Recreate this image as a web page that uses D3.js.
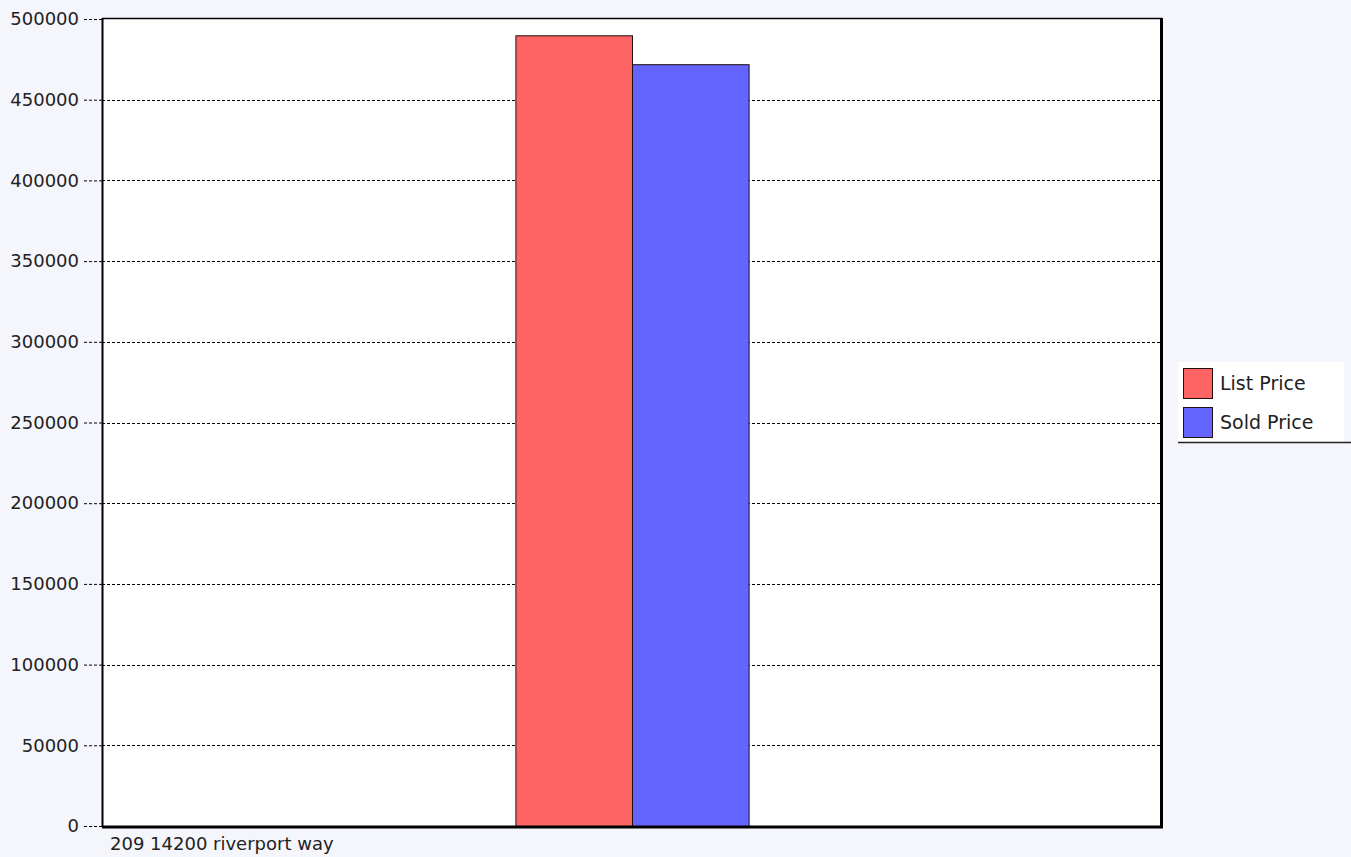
<!DOCTYPE html>
<html>
<head>
<meta charset="utf-8">
<script src="https://cdn.jsdelivr.net/npm/d3@7"></script>
<style>
  body { margin: 0; background: #f5f5fc; }
  text { font-family: "DejaVu Sans", sans-serif; }
</style>
</head>
<body>
<script>
var categories = ['209 14200 riverport way'];
var seriesNames = ['List Price', 'Sold Price'];
var listPrice = [489900];
var soldPrice = [472000];
var yTicks = [0, 50000, 100000, 150000, 200000, 250000, 300000, 350000, 400000, 450000, 500000];
var colors = ['#ff6464', '#6464ff'];

var screen = { width: 1351, height: 857 };
var plot = { left: 102, top: 18, right: 1162, bottom: 827 };

var svg = d3.select('body')
            .append('svg')
            .attr('width', screen.width)
            .attr('height', screen.height);

var xScale = d3.scaleBand()
               .domain(categories)
               .range([plot.left, plot.right]);

var subScale = d3.scaleBand()
                 .domain(seriesNames)
                 .range([xScale.bandwidth() * 0.39, xScale.bandwidth() * 0.61]);

var yScale = d3.scaleLinear()
               .domain([0, 500000])
               .range([plot.bottom - 1, plot.top + 1]);

// plot background
svg.append('rect')
   .attr('x', plot.left)
   .attr('y', plot.top)
   .attr('width', plot.right - plot.left)
   .attr('height', plot.bottom - plot.top)
   .attr('fill', '#ffffff');

// y axis with dashed ticks + gridlines
var yAxis = svg.append('g')
               .attr('transform', 'translate(' + plot.left + ',0)')
               .call(d3.axisLeft(yScale).tickValues(yTicks).tickSize(18).tickPadding(5).tickFormat(d3.format('d')));
yAxis.select('.domain').remove();
yAxis.selectAll('line').attr('stroke', '#000').attr('stroke-dasharray', '3,2');
yAxis.selectAll('text').attr('font-size', 18).attr('fill', '#222').attr('font-family', '"DejaVu Sans", sans-serif');

svg.append('g')
   .selectAll('line')
   .data(yTicks.filter(function(d){ return d > 0 && d < 500000; }))
   .enter()
   .append('line')
   .attr('x1', plot.left)
   .attr('x2', plot.right)
   .attr('y1', function(d){ return Math.round(yScale(d)) + 0.5; })
   .attr('y2', function(d){ return Math.round(yScale(d)) + 0.5; })
   .attr('stroke', '#000')
   .attr('stroke-dasharray', '3,2');

// bars
var rows = categories.map(function(c, i){
  return [{ key: 'List Price', value: listPrice[i], cat: c },
          { key: 'Sold Price', value: soldPrice[i], cat: c }];
});

svg.append('g')
   .selectAll('g')
   .data(rows)
   .enter()
   .append('g')
   .attr('transform', function(d){ return 'translate(' + xScale(d[0].cat) + ',0)'; })
   .selectAll('rect')
   .data(function(d){ return d; })
   .enter()
   .append('rect')
   .attr('x', function(d){ return subScale(d.key) + 0.5; })
   .attr('y', function(d){ return yScale(d.value) + 0.5; })
   .attr('width', subScale.bandwidth())
   .attr('height', function(d){ return yScale(0) - yScale(d.value); })
   .attr('fill', function(d, i){ return colors[i]; })
   .attr('stroke', '#201010')
   .attr('stroke-width', 1);

// frame
svg.append('line').attr('x1', plot.left + 0.5).attr('x2', plot.left + 0.5).attr('y1', plot.top).attr('y2', plot.bottom).attr('stroke', '#000').attr('stroke-width', 2);
svg.append('line').attr('x1', plot.left).attr('x2', plot.right).attr('y1', plot.top + 0.5).attr('y2', plot.top + 0.5).attr('stroke', '#000').attr('stroke-width', 1.5);
svg.append('line').attr('x1', plot.right - 0.5).attr('x2', plot.right - 0.5).attr('y1', plot.top).attr('y2', plot.bottom + 1).attr('stroke', '#000').attr('stroke-width', 3);
svg.append('line').attr('x1', plot.left).attr('x2', plot.right + 1).attr('y1', plot.bottom).attr('y2', plot.bottom).attr('stroke', '#000').attr('stroke-width', 3);

// x label
svg.append('g')
   .selectAll('text')
   .data(categories)
   .enter()
   .append('text')
   .attr('x', function(d){ return xScale(d) + 8; })
   .attr('y', 850)
   .attr('font-size', 18)
   .attr('fill', '#222')
   .text(function(d){ return d; });

// legend
var legend = svg.append('g').attr('transform', 'translate(1178,362)');
legend.append('rect').attr('x', 0).attr('y', 0).attr('width', 166).attr('height', 80).attr('fill', '#ffffff');
legend.append('line').attr('x1', 0).attr('x2', 173).attr('y1', 80.5).attr('y2', 80.5).attr('stroke', '#222').attr('stroke-width', 1.5);
var items = legend.selectAll('g.item')
                  .data(seriesNames)
                  .enter()
                  .append('g')
                  .attr('transform', function(d, i){ return 'translate(5,' + (6 + i * 39) + ')'; });
items.append('rect')
     .attr('x', 0.5).attr('y', 0.5)
     .attr('width', 29).attr('height', 30)
     .attr('fill', function(d, i){ return colors[i]; })
     .attr('stroke', '#201010');
items.append('text')
     .attr('x', 37).attr('y', 22)
     .attr('font-size', 19)
     .attr('fill', '#222')
     .text(function(d){ return d; });
</script>
</body>
</html>
